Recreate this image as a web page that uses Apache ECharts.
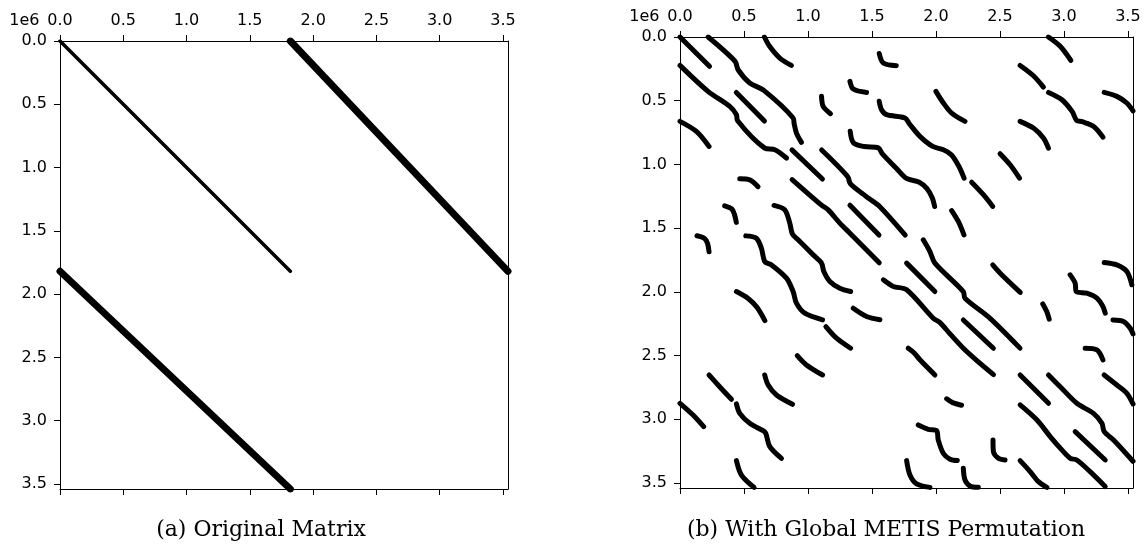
<!DOCTYPE html>
<html><head><meta charset="utf-8">
<script src="https://cdn.jsdelivr.net/npm/echarts@6/dist/echarts.min.js"></script>
<style>html,body{margin:0;padding:0;background:#fff}#c{width:1146px;height:546px}</style>
</head><body><div id="c"></div>
<script>
// ---- data (matrix indices in units of 1e6) ----
const N = 3.54;
const tickValues = [0, 0.5, 1, 1.5, 2, 2.5, 3, 3.5];
const tickLabels = ['0.0', '0.5', '1.0', '1.5', '2.0', '2.5', '3.0', '3.5'];
const offsetText = '1e6';
const subTitles = ['(a) Original Matrix', '(b) With Global METIS Permutation'];

// (a) original matrix: nonzero bands
const origDiagonal = [[0, 0], [1.82, 1.82]];
const origUpper = [[1.82, 0], [3.54, 1.82]];
const origLower = [[0, 1.82], [1.82, 3.54]];

// (b) METIS-permuted matrix: nonzero curves (x = column, y = row)
const metisSegments = [
  [[0,0],[0.23,0.23]],
  [[0.22,0],[0.43,0.19],[0.454,0.257],[0.545,0.361],[0.655,0.419],[0.884,0.636],[0.892,0.681],[0.91,0.754],[0.949,0.827]],
  [[0.66,0],[0.70,0.073],[0.78,0.165],[0.87,0.223]],
  [[0,0.223],[0.219,0.427],[0.389,0.545],[0.441,0.61],[0.449,0.655],[0.662,0.872],[0.741,0.885],[0.832,0.95]],
  [[0.44,0.435],[0.66,0.66]],
  [[0,0.662],[0.128,0.741],[0.227,0.859]],
  [[1.106,0.466],[1.119,0.545],[1.176,0.602]],
  [[1.328,0.348],[1.354,0.408],[1.458,0.435]],
  [[1.557,0.13],[1.588,0.204],[1.69,0.225]],
  [[1.557,0.505],[1.575,0.571],[1.615,0.61],[1.758,0.636],[1.792,0.681],[1.875,0.78],[1.975,0.859],[2.058,0.885],[2.12,0.924],[2.18,1.016],[2.22,1.108]],
  [[2.0,0.427],[2.058,0.518],[2.123,0.597],[2.227,0.662]],
  [[2.879,0],[2.971,0.073],[3.054,0.183]],
  [[2.658,0.223],[2.762,0.304],[2.84,0.393]],
  [[2.88,0.435],[2.985,0.492],[3.064,0.584],[3.1,0.655],[3.142,0.665],[3.233,0.702],[3.305,0.786]],
  [[3.315,0.435],[3.414,0.466],[3.492,0.518],[3.54,0.58]],
  [[2.658,0.662],[2.762,0.715],[2.84,0.793],[2.879,0.872]],
  [[2.501,0.916],[2.58,1.003],[2.653,1.108]],
  [[1.33,0.74],[1.355,0.83],[1.44,0.86],[1.55,0.87],[1.58,0.915],[1.69,1.03],[1.77,1.11],[1.87,1.14],[1.93,1.19],[1.97,1.26],[1.99,1.33]],
  [[0.875,0.886],[1.113,1.115]],
  [[1.107,0.887],[1.31,1.095],[1.33,1.15],[1.40,1.21],[1.48,1.27],[1.56,1.33],[1.76,1.555]],
  [[0.876,1.119],[1.106,1.32],[1.158,1.357],[1.249,1.461],[1.328,1.54],[1.557,1.772]],
  [[1.328,1.32],[1.555,1.555]],
  [[0.467,1.113],[0.545,1.121],[0.61,1.175]],
  [[0.349,1.325],[0.405,1.35],[0.425,1.39],[0.44,1.455]],
  [[0.133,1.56],[0.19,1.58],[0.215,1.62],[0.227,1.685]],
  [[0.735,1.322],[0.819,1.357],[0.858,1.461],[0.879,1.548],[0.923,1.592],[1.041,1.71],[1.106,1.775],[1.124,1.841],[1.171,1.919],[1.249,1.972],[1.333,1.998]],
  [[0.514,1.561],[0.597,1.579],[0.636,1.658],[0.663,1.763],[0.715,1.789],[0.832,1.893],[0.884,1.998],[0.91,2.089],[0.975,2.168],[1.114,2.22]],
  [[0.441,1.998],[0.53,2.05],[0.6,2.12],[0.663,2.226]],
  [[1.14,2.273],[1.223,2.364],[1.333,2.443]],
  [[1.354,2.129],[1.458,2.194],[1.562,2.22]],
  [[1.901,1.592],[1.953,1.684],[1.992,1.775],[2.214,1.998],[2.227,2.05],[2.423,2.208],[2.657,2.442]],
  [[1.771,1.775],[1.992,1.998]],
  [[1.589,1.906],[1.667,1.958],[1.771,1.984],[1.979,2.207],[2.03,2.24],[2.11,2.33],[2.214,2.443],[2.32,2.54],[2.45,2.65]],
  [[2.214,2.221],[2.449,2.443]],
  [[2.123,1.362],[2.175,1.448],[2.219,1.553]],
  [[2.279,1.14],[2.371,1.238],[2.444,1.33]],
  [[2.444,1.789],[2.502,1.854],[2.659,2.005]],
  [[2.835,2.095],[2.866,2.155],[2.885,2.215]],
  [[3.049,1.867],[3.088,1.932],[3.096,1.998],[3.179,2.011],[3.258,2.05],[3.305,2.116],[3.323,2.168]],
  [[3.315,1.77],[3.414,1.789],[3.492,1.841],[3.531,1.945]],
  [[3.383,2.221],[3.466,2.233],[3.518,2.285],[3.54,2.33]],
  [[3.166,2.443],[3.258,2.456],[3.305,2.534]],
  [[1.784,2.443],[1.83,2.48],[1.875,2.534],[1.992,2.653]],
  [[2.658,2.653],[2.88,2.875]],
  [[2.88,2.653],[2.971,2.745],[3.101,2.875],[3.231,2.954],[3.297,3.032],[3.315,3.098],[3.388,3.163],[3.54,3.33]],
  [[3.315,2.653],[3.414,2.732],[3.492,2.797],[3.54,2.88]],
  [[2.658,2.888],[2.788,3.005],[2.893,3.136],[2.984,3.241],[3.05,3.307],[3.101,3.32],[3.205,3.412],[3.323,3.529]],
  [[3.088,3.098],[3.323,3.32]],
  [[2.084,2.84],[2.13,2.87],[2.2,2.89]],
  [[1.862,3.045],[1.94,3.079],[2.005,3.089],[2.018,3.163],[2.057,3.267],[2.11,3.314],[2.167,3.325]],
  [[2.446,3.163],[2.449,3.254],[2.488,3.307],[2.54,3.32]],
  [[1.771,3.325],[1.797,3.438],[1.849,3.508],[1.953,3.535]],
  [[2.214,3.385],[2.227,3.477],[2.266,3.524],[2.331,3.535]],
  [[2.658,3.325],[2.736,3.411],[2.801,3.49],[2.867,3.535]],
  [[0.916,2.501],[0.988,2.574],[1.114,2.653]],
  [[0.227,2.653],[0.31,2.745],[0.402,2.844]],
  [[0.662,2.653],[0.689,2.732],[0.754,2.81],[0.879,2.883]],
  [[0,2.875],[0.102,2.967],[0.185,3.058]],
  [[0.441,2.88],[0.467,2.954],[0.545,3.032],[0.649,3.09],[0.67,3.11],[0.702,3.215],[0.793,3.307]],
  [[0.441,3.325],[0.48,3.438],[0.579,3.535]]
];

// ---- layout / styling ----
const grids = [
  { left: 60, top: 41, width: 448, height: 448 },
  { left: 680, top: 37, width: 453, height: 451 }
];
const TICK_FONT = { fontFamily: 'DejaVu Sans', fontSize: 16, color: '#000' };
const fmt = v => { const i = tickValues.indexOf(v); return i >= 0 ? tickLabels[i] : ''; };
const lineAxis = { show: true, onZero: false, lineStyle: { color: '#000', width: 1 } };

const xAxes = [], yAxes = [];
grids.forEach((g, gi) => {
  xAxes.push({ type: 'value', gridIndex: gi, position: 'top', min: 0, max: N,
    axisLine: lineAxis,
    axisTick: { show: true, inside: false, length: 6, customValues: tickValues, lineStyle: { color: '#000', width: 1 } },
    axisLabel: Object.assign({ show: true, margin: 12, customValues: tickValues, formatter: fmt }, TICK_FONT),
    splitLine: { show: false } });
  xAxes.push({ type: 'value', gridIndex: gi, position: 'bottom', min: 0, max: N,
    axisLine: lineAxis,
    axisTick: { show: true, inside: false, length: 6, customValues: tickValues, lineStyle: { color: '#000', width: 1 } },
    axisLabel: { show: false },
    splitLine: { show: false } });
  yAxes.push({ type: 'value', gridIndex: gi, position: 'left', inverse: true, min: 0, max: N,
    axisLine: lineAxis,
    axisTick: { show: true, inside: false, length: 6, customValues: tickValues, lineStyle: { color: '#000', width: 1 } },
    axisLabel: Object.assign({ show: true, margin: 13, customValues: tickValues, formatter: fmt }, TICK_FONT),
    splitLine: { show: false } });
  yAxes.push({ type: 'value', gridIndex: gi, position: 'right', inverse: true, min: 0, max: N,
    axisLine: lineAxis, axisTick: { show: false }, axisLabel: { show: false }, splitLine: { show: false } });
});

function seg(data, axisIdx, width) {
  return { type: 'line', xAxisIndex: axisIdx * 2, yAxisIndex: axisIdx * 2, data: data,
    showSymbol: false, symbol: 'none', smooth: 0.3, silent: true, clip: true,
    lineStyle: { color: '#000', width: width, cap: 'round', join: 'round' } };
}
const series = [
  seg(origDiagonal, 0, 3.5),
  seg(origUpper, 0, 7),
  seg(origLower, 0, 7)
].concat(metisSegments.map(s => seg(s, 1, 5)));

const graphic = [];
grids.forEach((g, gi) => {
  graphic.push({ type: 'text', x: g.left - 20.5, y: g.top - 12,
    style: { text: offsetText, font: '16px "DejaVu Sans"', fill: '#000', align: 'right', verticalAlign: 'bottom' } });
});
graphic.push({ type: 'text', x: 261, y: 530, style: { text: subTitles[0], font: '22px "DejaVu Serif"', fill: '#000', align: 'center', verticalAlign: 'middle' } });
graphic.push({ type: 'text', x: 886, y: 530, style: { text: subTitles[1], font: '22px "DejaVu Serif"', fill: '#000', align: 'center', verticalAlign: 'middle' } });

const chart = echarts.init(document.getElementById('c'), null, { renderer: 'canvas' });
chart.setOption({
  animation: false,
  backgroundColor: '#fff',
  grid: grids.map(g => Object.assign({ containLabel: false }, g)),
  xAxis: xAxes,
  yAxis: yAxes,
  series: series,
  graphic: graphic
});
</script></body></html>
